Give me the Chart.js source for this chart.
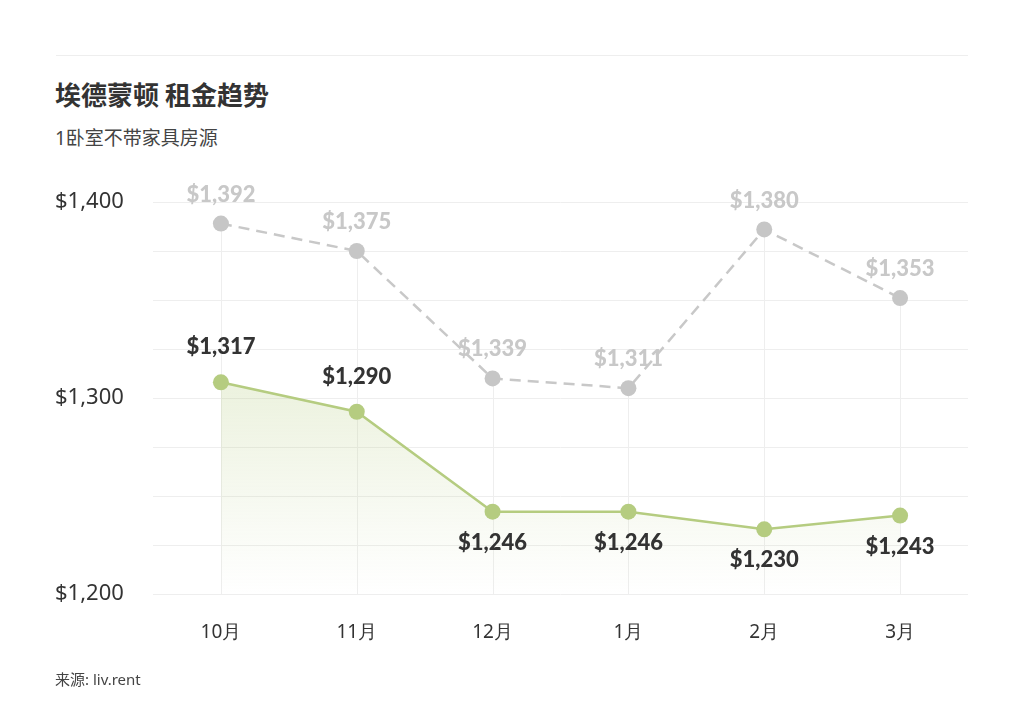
<head>
  <meta charset="utf-8" />
  <title>埃德蒙顿 租金趋势</title>
  <script src="https://cdn.jsdelivr.net/npm/chart.js"></script>
  <style>
    body { margin: 0; background: #fff; font-family: "Noto Sans", "Noto Sans CJK SC", sans-serif; color: #333; }
    #wrap { position: relative; width: 1024px; height: 717px; }
    #rule { position: absolute; left: 56px; top: 55px; width: 912px; border-top: 1px solid #eeeeee; }
    #title { position: absolute; left: 55px; top: 75px; font: bold 26px "Noto Sans CJK SC", sans-serif; color: #333; }
    #subtitle { position: absolute; left: 55px; top: 123px; font: 19px "Noto Sans", "Noto Sans CJK SC", sans-serif; color: #444; }
    #source { position: absolute; left: 55px; top: 668px; font: 15px "Noto Sans", "Noto Sans CJK SC", sans-serif; color: #444; }
    #box { position: absolute; left: 0; top: 0; width: 1024px; height: 717px; }
  </style>
</head>

<body>
  <div id="wrap">
    <div id="rule"></div>
    <div id="title">埃德蒙顿 租金趋势</div>
    <div id="subtitle">1卧室不带家具房源</div>
    <div id="box"><canvas id="rent"></canvas></div>
    <div id="source">来源: liv.rent</div>
  </div>
</body>

<script>
  // months on the x axis
  const months = ["10月", "11月", "12月", "1月", "2月", "3月"];
  // point heights
  const rentThisYear = [1308, 1293, 1242, 1242, 1233, 1240];
  const rentLastYear = [1389, 1375, 1310, 1305, 1386, 1351];
  // values printed next to the points
  const labelsThisYear = [1317, 1290, 1246, 1246, 1230, 1243];
  const labelsLastYear = [1392, 1375, 1339, 1311, 1380, 1353];
  // y axis
  const yMin = 1200;
  const yMax = 1400;
  const yStep = 25;

  const money = (v) => "$" + v.toLocaleString("en-US");

  // vertical guide lines from the upper point down to the bottom
  const guideLines = {
    id: "guideLines",
    beforeDatasetsDraw(chart) {
      const ctx = chart.ctx;
      const bottom = chart.chartArea.bottom;
      const meta = chart.getDatasetMeta(1);
      ctx.save();
      ctx.strokeStyle = "#eeeeee";
      ctx.lineWidth = 1;
      meta.data.forEach((pt) => {
        ctx.beginPath();
        ctx.moveTo(Math.round(pt.x) + 0.5, pt.y);
        ctx.lineTo(Math.round(pt.x) + 0.5, bottom);
        ctx.stroke();
      });
      ctx.restore();
    },
  };

  // text labels above / below the points
  const pointLabels = {
    id: "pointLabels",
    afterDatasetsDraw(chart, args, opts) {
      const ctx = chart.ctx;
      ctx.save();
      ctx.textAlign = "center";
      ctx.textBaseline = "middle";
      ctx.font = "900 22px Lato";
      opts.sets.forEach((set) => {
        const meta = chart.getDatasetMeta(set.dataset);
        ctx.fillStyle = set.color;
        meta.data.forEach((pt, i) => {
          const dy = set.side[i] === "up" ? set.up : set.down;
          ctx.fillText(money(set.values[i]), pt.x, pt.y + dy);
        });
      });
      ctx.restore();
    },
  };

  const canvas = document.getElementById("rent");

  new Chart(canvas, {
    type: "line",
    data: {
      labels: months,
      datasets: [
        {
          label: "今年",
          data: rentThisYear,
          borderColor: "#b5cc80",
          borderWidth: 2.5,
          pointRadius: 8,
          pointHoverRadius: 8,
          pointBackgroundColor: "#b5cc80",
          pointBorderWidth: 0,
          tension: 0,
          fill: "start",
          backgroundColor: (c) => {
            const area = c.chart.chartArea;
            if (!area) return "rgba(181,204,128,0.25)";
            const y0 = c.chart.scales.y.getPixelForValue(Math.max(...rentThisYear));
            const g = c.chart.ctx.createLinearGradient(0, y0, 0, area.bottom);
            g.addColorStop(0, "rgba(181,204,128,0.26)");
            g.addColorStop(1, "rgba(181,204,128,0)");
            return g;
          },
          order: 1,
        },
        {
          label: "去年",
          data: rentLastYear,
          borderColor: "#c8c8c8",
          borderWidth: 2.5,
          borderDash: [11, 7],
          pointRadius: 8,
          pointHoverRadius: 8,
          pointBackgroundColor: "#c6c6c6",
          pointBorderWidth: 0,
          tension: 0,
          fill: false,
          order: 2,
        },
      ],
    },
    options: {
      responsive: true,
      maintainAspectRatio: false,
      animation: false,
      layout: { padding: { left: 55, right: 56, top: 202, bottom: 0 } },
      plugins: {
        legend: { display: false },
        tooltip: { enabled: false },
        pointLabels: {
          sets: [
            { dataset: 1, values: labelsLastYear, color: "#c8c8c8", side: ["up", "up", "up", "up", "up", "up"], up: -29, down: 30 },
            { dataset: 0, values: labelsThisYear, color: "#333333", side: ["up", "up", "down", "down", "down", "down"], up: -35, down: 31 },
          ],
        },
      },
      scales: {
        x: {
          offset: true,
          grid: { display: false, drawTicks: false },
          border: { display: false },
          ticks: { color: "#333", font: { family: "Noto Sans", size: 19 }, padding: 27 },
          afterFit(scale) { scale.height = 123; },
        },
        y: {
          min: yMin,
          max: yMax,
          grid: { color: "#eeeeee", drawTicks: false },
          border: { display: false },
          ticks: {
            stepSize: yStep,
            color: "#333",
            crossAlign: "far",
            padding: 0,
            font: { family: "Noto Sans", size: 22 },
            callback: (v) => (v % 100 === 0 ? money(v) : ""),
          },
          afterFit(scale) { scale.width = 98; },
        },
      },
    },
    plugins: [guideLines, pointLabels],
  });
</script>
